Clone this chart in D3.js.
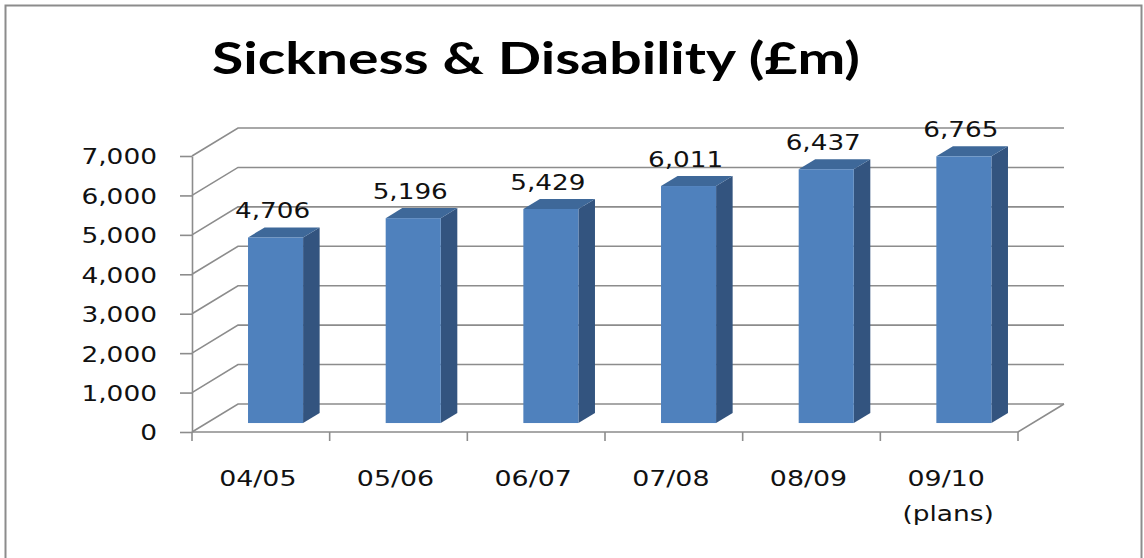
<!DOCTYPE html>
<html>
<head>
<meta charset="utf-8">
<script src="https://cdn.jsdelivr.net/npm/d3@7"></script>
<style>
  html, body { margin: 0; padding: 0; background: #fff; }
  svg { display: block; }
</style>
</head>
<body>
<svg id="chart" width="1144" height="558"></svg>
<script>
// ---- data ----
const title = "Sickness & Disability (£m)";
const categories = ["04/05", "05/06", "06/07", "07/08", "08/09", "09/10"];
const subLabels = ["", "", "", "", "", "(plans)"];
const values = [4706, 5196, 5429, 6011, 6437, 6765];
const yTicks = [0, 1000, 2000, 3000, 4000, 5000, 6000, 7000];

// ---- layout ----
const svg = d3.select("#chart");
const plotLeft = 192, plotRight = 1018, plotBottom = 432, plotTop = 156;
const depthDx = 46, depthDy = -28;          // back wall offset
const barFront = 0.32, barBack = 0.68;       // bar position within depth
const gridColor = "#8c8c8c";
const numFont = "'DejaVu Sans', Verdana, sans-serif";

const x = d3.scaleBand().domain(categories).range([plotLeft, plotRight]);
const y = d3.scaleLinear().domain([0, 7000]).range([plotBottom, plotTop]);

function stretch(sel, k) {
  sel.each(function () {
    const w = this.getComputedTextLength();
    d3.select(this).attr("textLength", w * k).attr("lengthAdjust", "spacingAndGlyphs");
  });
}

// outer frame
svg.append("rect")
  .attr("x", 5.5).attr("y", 5.5).attr("width", 1136).attr("height", 560)
  .attr("fill", "none").attr("stroke", "#8c8c8c").attr("stroke-width", 2);

// title
const t = svg.append("text")
  .attr("x", 536).attr("y", 74)
  .attr("text-anchor", "middle")
  .style("font-family", "Lato, 'Open Sans', sans-serif")
  .style("font-weight", 700)
  .style("font-size", "43px")
  .attr("fill", "#000")
  .text(title);
t.attr("textLength", 648).attr("lengthAdjust", "spacingAndGlyphs");

// gridlines: side wall + back wall
const grid = svg.append("g").attr("fill", "none").attr("stroke", gridColor).attr("stroke-width", 1.6);
grid.selectAll("path.g").data(yTicks).join("path")
  .attr("class", "g")
  .attr("d", d => {
    const p = d3.path();
    p.moveTo(plotLeft, y(d));
    p.lineTo(plotLeft + depthDx, y(d) + depthDy);
    p.lineTo(plotRight + depthDx, y(d) + depthDy);
    return p.toString();
  });
// floor front/right edges
grid.append("path").attr("d", () => {
  const p = d3.path();
  p.moveTo(plotLeft, y(0));
  p.lineTo(plotRight, y(0));
  p.lineTo(plotRight + depthDx, y(0) + depthDy);
  return p.toString();
});

// y axis
const yAxis = svg.append("g")
  .attr("transform", `translate(${plotLeft},0)`)
  .call(d3.axisLeft(y).tickValues(yTicks).tickFormat(d3.format(",")).tickSize(12).tickPadding(23).tickSizeOuter(0));
yAxis.select(".domain").attr("stroke", gridColor).attr("stroke-width", 1.6);
yAxis.selectAll(".tick line").attr("stroke", gridColor).attr("stroke-width", 1.6);
yAxis.selectAll(".tick text")
  .style("font-family", numFont).style("font-size", "22px").attr("fill", "#111")
  .attr("dy", "0.36em");
stretch(yAxis.selectAll(".tick text"), 1.2);

// x axis boundary ticks
const bounds = categories.map(c => x(c)).concat([plotRight]);
svg.append("g").selectAll("line").data(bounds).join("line")
  .attr("x1", d => d).attr("x2", d => d)
  .attr("y1", plotBottom).attr("y2", plotBottom + 9)
  .attr("stroke", gridColor).attr("stroke-width", 1.6);

// x labels
const xl = svg.append("g");
const lab1 = xl.selectAll("text.c").data(categories).join("text")
  .attr("class", "c")
  .attr("x", d => x(d) + x.bandwidth() / 2 - 3)
  .attr("y", 486)
  .attr("text-anchor", "middle")
  .style("font-family", numFont).style("font-size", "22px").attr("fill", "#111")
  .text(d => d);
stretch(lab1, 1.22);
const lab2 = xl.selectAll("text.s").data(categories.map((c, i) => ({ c, s: subLabels[i] })).filter(d => d.s)).join("text")
  .attr("class", "s")
  .attr("x", d => x(d.c) + x.bandwidth() / 2 - 1)
  .attr("y", 521)
  .attr("text-anchor", "middle")
  .style("font-family", numFont).style("font-size", "22px").attr("fill", "#111")
  .text(d => d.s);
stretch(lab2, 1.2);

// bars (3D)
const barW = x.bandwidth() * 0.4;
const fdx = depthDx * barFront, fdy = depthDy * barFront;
const sdx = depthDx * (barBack - barFront), sdy = depthDy * (barBack - barFront);
const bars = svg.append("g").selectAll("g").data(categories.map((c, i) => ({ c, v: values[i] }))).join("g");
bars.each(function (d) {
  const g = d3.select(this);
  const bx = x(d.c) + (x.bandwidth() - barW) / 2 + fdx;
  const yt = y(d.v) + fdy, yb = y(0) + fdy;
  // side
  g.append("path").attr("fill", "#33547f")
    .attr("d", `M${bx + barW},${yt}L${bx + barW + sdx},${yt + sdy}L${bx + barW + sdx},${yb + sdy}L${bx + barW},${yb}Z`);
  // top
  g.append("path").attr("fill", "#3e6899")
    .attr("d", `M${bx},${yt}L${bx + sdx},${yt + sdy}L${bx + barW + sdx},${yt + sdy}L${bx + barW},${yt}Z`);
  // front
  g.append("rect").attr("x", bx).attr("y", yt).attr("width", barW).attr("height", yb - yt).attr("fill", "#4f81bd");
  // label
  const tx = g.append("text")
    .attr("x", bx + barW / 2 - 3).attr("y", yt - 19)
    .attr("text-anchor", "middle")
    .style("font-family", numFont).style("font-size", "21px").attr("fill", "#111")
    .text(d3.format(",")(d.v));
  stretch(tx, 1.25);
});
</script>
</body>
</html>
